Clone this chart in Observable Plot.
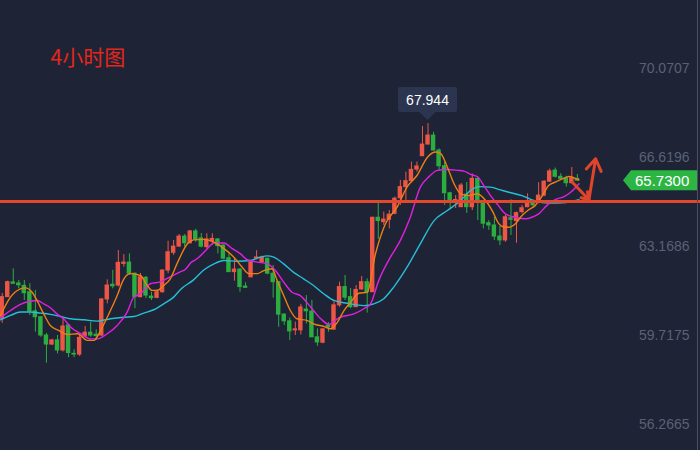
<!DOCTYPE html>
<html><head><meta charset="utf-8">
<script src="https://cdn.jsdelivr.net/npm/d3@7"></script>
<script src="https://cdn.jsdelivr.net/npm/@observablehq/plot@0.6"></script>
<style>html,body{margin:0;padding:0;background:#1e2436;}</style>
</head><body><div id="chart"></div>
<script>
// ---- Data (4-hour candles) ----
const opens = [
60.37,61.21,61.78,61.74,61.65,61.40,60.66,60.43,59.72,59.37,
59.53,59.14,60.11,59.01,58.98,59.68,59.83,59.75,59.72,61.12,
61.69,61.66,62.50,62.55,62.12,61.21,61.96,61.23,61.18,61.40,
62.24,62.93,63.17,63.56,63.30,63.76,63.49,63.15,63.37,63.45,
63.21,62.72,62.18,62.28,61.62,61.98,62.70,62.57,62.70,62.12,
61.79,60.53,60.27,59.92,59.92,60.73,60.65,59.65,59.44,60.11,
59.95,60.89,61.60,61.21,60.82,61.51,61.79,61.40,64.29,64.12,
64.21,64.44,65.05,65.48,65.71,66.16,66.68,67.13,67.48,66.90,
66.29,65.24,64.92,64.70,65.19,64.70,65.80,64.89,64.08,63.99,
63.56,63.41,64.27,64.16,64.51,64.70,64.89,64.89,65.15,65.69,
66.12,65.88,65.82,65.63,65.80];
const highs = [
61.35,61.83,62.31,61.86,61.86,61.73,61.47,60.46,59.80,59.57,
59.72,60.37,60.15,59.17,59.76,60.07,60.24,59.94,61.16,61.88,
62.25,63.02,62.86,62.89,62.14,62.13,62.01,61.40,61.49,62.27,
63.38,63.41,63.64,63.64,63.80,63.84,63.68,63.67,63.67,63.47,
63.24,62.89,62.70,62.31,61.77,62.60,63.01,62.80,62.72,62.44,
61.82,60.57,60.40,60.24,60.93,61.27,61.08,59.98,59.98,60.22,
61.06,61.79,62.05,61.54,61.66,62.01,61.92,64.31,64.86,64.51,
64.57,65.09,65.74,66.06,66.45,66.45,67.83,67.944,67.61,66.96,
66.45,65.28,65.15,65.62,65.66,65.99,65.86,64.96,64.18,64.31,
63.95,64.38,64.99,64.51,64.77,65.22,64.99,65.65,65.73,66.18,
66.22,66.00,65.90,66.24,65.97];
const lows = [
60.19,61.20,61.70,61.53,61.08,60.50,59.85,59.65,58.65,59.33,
59.01,59.08,58.86,58.86,58.91,59.66,59.65,59.53,59.68,60.95,
61.53,61.60,62.37,62.05,60.76,61.18,61.15,61.08,61.15,61.36,
62.12,62.83,63.15,63.15,63.28,63.34,63.12,63.08,63.21,62.89,
62.68,62.17,61.83,61.40,61.55,61.96,62.66,62.55,62.08,61.17,
60.04,60.11,59.53,59.72,59.74,60.17,59.64,59.30,59.40,59.85,
59.92,60.82,61.08,60.76,60.81,61.47,60.59,61.39,63.45,63.99,
63.86,64.41,64.77,64.89,65.67,66.06,66.66,67.12,66.89,66.12,
64.77,64.64,64.65,64.69,64.46,64.57,64.18,63.86,63.80,63.41,
63.21,63.34,63.60,63.30,64.44,64.68,64.70,64.83,65.11,65.66,
65.83,65.73,65.48,65.61,65.70];
const closes = [
61.21,61.79,61.73,61.67,61.36,60.66,60.43,59.72,59.37,59.53,
59.14,60.07,59.04,58.98,59.63,59.83,59.72,59.70,61.12,61.66,
61.63,62.54,62.55,62.12,61.21,61.98,61.27,61.17,61.40,62.24,
62.95,63.17,63.56,63.30,63.76,63.44,63.17,63.45,63.47,63.19,
62.70,62.18,62.28,61.60,61.57,62.56,62.75,62.75,62.12,61.79,
60.53,60.27,59.88,59.96,60.81,60.66,59.65,59.45,59.96,60.04,
60.89,61.60,61.19,60.82,61.49,61.79,61.40,64.29,64.16,64.22,
64.41,65.03,65.48,65.71,66.15,66.28,67.13,67.48,66.90,66.29,
65.24,64.96,64.98,65.54,64.70,65.80,64.89,64.06,63.99,63.56,
63.41,64.31,64.21,64.47,64.66,64.89,64.77,65.15,65.69,66.09,
65.88,65.80,65.63,65.82,65.73];

// moving-average curves: [candle index, price]
const maFast = [[-0.3,60.50],[1.5,61.21],[3.3,61.53],[4.2,61.57],[5.4,61.40],[6.3,61.08],[7.5,60.56],[8.7,60.11],[10.2,59.92],[11.8,59.76],
[13.6,59.79],[15.4,59.53],[16.6,59.53],[17.8,59.92],[19.0,60.43],[20.8,61.27],[22.0,61.92],[23.2,62.12],[25.0,62.05],[26.2,61.66],
[27.1,61.47],[28.0,61.47],[29.2,61.66],[30.4,61.92],[31.6,62.50],[33.5,63.28],[34.6,63.43],[36.5,63.45],[38.3,63.34],[40.1,63.09],
[41.9,62.76],[43.4,62.37],[44.6,62.12],[46.1,62.12],[47.3,62.24],[48.8,62.31],[49.7,61.86],[50.9,61.27],[52.1,60.69],[53.3,60.37],
[55.2,60.30],[56.3,60.17],[58.2,60.07],[59.4,59.98],[60.6,60.23],[61.8,60.69],[63.0,61.01],[64.5,61.36],[66.0,61.40],[67.5,62.89],
[69.3,64.06],[71.4,64.70],[73.2,65.48],[75.0,65.93],[76.9,66.64],[78.4,66.84],[79.3,66.78],[80.5,66.25],[81.7,65.61],[82.9,65.22],
[84.4,65.15],[85.9,65.22],[87.4,64.96],[88.6,64.57],[89.8,64.06],[90.4,63.95],[91.6,63.92],[92.8,64.06],[94.0,64.38],[95.2,64.60],
[96.4,64.77],[97.7,65.15],[98.8,65.54],[100.0,65.67],[101.3,65.80],[102.5,65.89],[103.4,65.84],[104.3,65.76]];
const maMid = [[-0.3,60.41],[1.5,60.69],[3.3,60.93],[5.1,61.05],[6.3,61.08],[7.5,60.95],[8.7,60.80],[9.9,60.56],[11.1,60.37],[12.4,60.04],
[14.2,59.79],[16.0,59.59],[17.2,59.59],[19.0,59.79],[20.8,60.11],[22.6,60.63],[23.8,61.21],[25.0,61.34],[26.8,61.73],[28.6,61.80],
[30.4,62.00],[32.2,62.19],[33.1,62.28],[34.1,62.54],[35.3,62.71],[36.8,63.02],[38.3,63.31],[40.1,63.31],[41.6,63.09],[43.1,62.89],
[44.3,62.66],[46.1,62.57],[47.9,62.51],[49.4,62.24],[50.9,61.79],[52.4,61.40],[53.9,61.27],[55.8,60.82],[57.6,60.37],[59.1,60.15],
[60.6,60.37],[61.2,60.43],[63.6,60.56],[65.4,60.76],[66.6,60.95],[68.1,61.86],[70.2,62.76],[72.0,63.41],[73.8,64.31],[75.6,65.48],
[77.1,65.87],[78.7,66.13],[80.5,66.16],[82.3,66.13],[83.5,66.10],[84.7,65.97],[85.9,65.89],[87.1,65.54],[88.3,65.15],[89.6,64.80],
[91.0,64.44],[92.8,64.31],[94.6,64.25],[95.8,64.31],[97.0,64.44],[98.5,64.77],[100.0,64.99],[101.6,65.11],[102.8,65.28],[104.3,65.61]];
const maSlow = [[-0.3,60.33],[1.5,60.50],[3.3,60.63],[5.1,60.63],[6.9,60.59],[8.7,60.54],[10.5,60.46],[12.4,60.37],[14.8,60.33],[17.2,60.28],
[19.6,60.37],[22.0,60.43],[23.8,60.46],[25.6,60.59],[27.4,60.72],[29.2,60.95],[31.0,61.21],[32.2,61.50],[34.6,61.88],[36.5,62.27],
[38.3,62.50],[40.1,62.63],[42.5,62.60],[44.9,62.63],[46.7,62.76],[47.9,62.81],[49.1,62.76],[50.9,62.50],[52.7,62.17],[54.5,61.92],
[56.3,61.66],[58.2,61.33],[60.0,61.08],[62.4,60.97],[65.4,60.88],[67.2,60.95],[69.0,61.15],[70.8,61.60],[73.2,62.37],[75.6,63.28],
[78.1,64.18],[80.5,64.57],[82.9,64.96],[84.7,65.35],[86.2,65.50],[88.3,65.48],[90.1,65.37],[91.6,65.28],[94.0,65.15],[96.4,64.93],
[98.8,64.86],[101.3,64.87],[103.1,64.93],[104.3,64.99]];

const yTickLabels = ["70.0707","66.6196","63.1686","59.7175","56.2665"];
const supportLevel = [64.92];
const lastPrice = 65.73;
const lastPriceLabel = "65.7300";
const peakIndex = 77;
const peakLabel = "67.944";
const titleText = "4小时图";
const arrows = [
  {x1:103.1, y1:65.67, x2:106.1, y2:64.99},
  {x1:106.1, y1:64.99, x2:107.3, y2:66.58}
];

// ---- Build ----
const RED = "#ec5646", GREEN = "#2bae3f", BG = "#1e2436";
const candles = opens.map((o, i) => ({i, open:o, high:highs[i], low:lows[i], close:closes[i],
  col: closes[i] >= o ? RED : GREEN}));
const toPts = a => a.map(([i, v]) => ({i, v}));

const chart = Plot.plot({
  width: 700, height: 450, margin: 0,
  style: {background: BG, overflow: "visible"},
  x: {type: "linear", domain: [-0.307, 126.27], axis: null},
  y: {domain: [55.2575, 72.7214], axis: null},
  color: {type: "identity"},
  marks: [
    Plot.ruleX(candles, {x: "i", y1: "low", y2: "high", stroke: "col", strokeWidth: 1}),
    Plot.rect(candles, {x1: d => d.i - 0.4, x2: d => d.i + 0.4, y1: "open", y2: "close", fill: "col", insetTop: -0.5, insetBottom: -0.5}),
    Plot.line(toPts(maSlow), {x: "i", y: "v", stroke: "#27bfd6", strokeWidth: 1.4, curve: "monotone-x"}),
    Plot.line(toPts(maMid), {x: "i", y: "v", stroke: "#e020e0", strokeWidth: 1.4, curve: "monotone-x"}),
    Plot.line(toPts(maFast), {x: "i", y: "v", stroke: "#f07f12", strokeWidth: 1.4, curve: "monotone-x"}),
    Plot.ruleY(supportLevel, {stroke: "#e4472b", strokeWidth: 3}),
    Plot.arrow(arrows, {x1: "x1", y1: "y1", x2: "x2", y2: "y2", stroke: "#e0452b", strokeWidth: 3, headLength: 20, headAngle: 66}),
    Plot.text(yTickLabels, {y: d => +d, text: d => d, frameAnchor: "right", dx: -11, fill: "#5b6174", fontSize: 14, fontFamily: "Liberation Sans, Arial, sans-serif"}),
    Plot.text([titleText], {frameAnchor: "top-left", dx: 50, dy: 58, lineAnchor: "middle", text: d => d, fill: "#e6261a", fontSize: 21, fontFamily: "Noto Sans CJK SC, sans-serif"})
  ]
});
document.getElementById("chart").appendChild(chart);

// overlays positioned through Plot's scales
const sx = chart.scale("x"), sy = chart.scale("y");
const svg = d3.select(chart);
svg.append("line").attr("x1", 697.5).attr("x2", 697.5).attr("y1", 0).attr("y2", 450)
  .attr("stroke", "#4b4f5e").attr("stroke-width", 1);
// last price tag
const py = sy.apply(lastPrice);
svg.append("path")
  .attr("d", `M697,${py-10}H631L623,${py}L631,${py+10}H697Z`)
  .attr("fill", "#2db544");
svg.append("text").attr("x", 635).attr("y", py).attr("dy", "0.36em")
  .attr("text-anchor", "start")
  .attr("fill", "#fff").attr("font-size", 15).attr("font-family", "Liberation Sans, Arial, sans-serif")
  .text(lastPriceLabel);
// peak tooltip
const cx = sx.apply(peakIndex), hy = sy.apply(highs[peakIndex]);
const bw = 59, bh = 25, bottom = hy - 11;
svg.append("path")
  .attr("d", `M${cx-bw/2+2},${bottom-bh}H${cx+bw/2-2}Q${cx+bw/2},${bottom-bh} ${cx+bw/2},${bottom-bh+2}V${bottom-2}Q${cx+bw/2},${bottom} ${cx+bw/2-2},${bottom}H${cx+8}L${cx},${bottom+8}L${cx-8},${bottom}H${cx-bw/2+2}Q${cx-bw/2},${bottom} ${cx-bw/2},${bottom-2}V${bottom-bh+2}Q${cx-bw/2},${bottom-bh} ${cx-bw/2+2},${bottom-bh}Z`)
  .attr("fill", "#2b3550");
svg.append("text").attr("x", cx).attr("y", bottom - bh/2).attr("dy", "0.36em")
  .attr("text-anchor", "middle").attr("fill", "#fff").attr("font-size", 14)
  .attr("font-family", "Liberation Sans, Arial, sans-serif").text(peakLabel);
</script>
</body></html>
